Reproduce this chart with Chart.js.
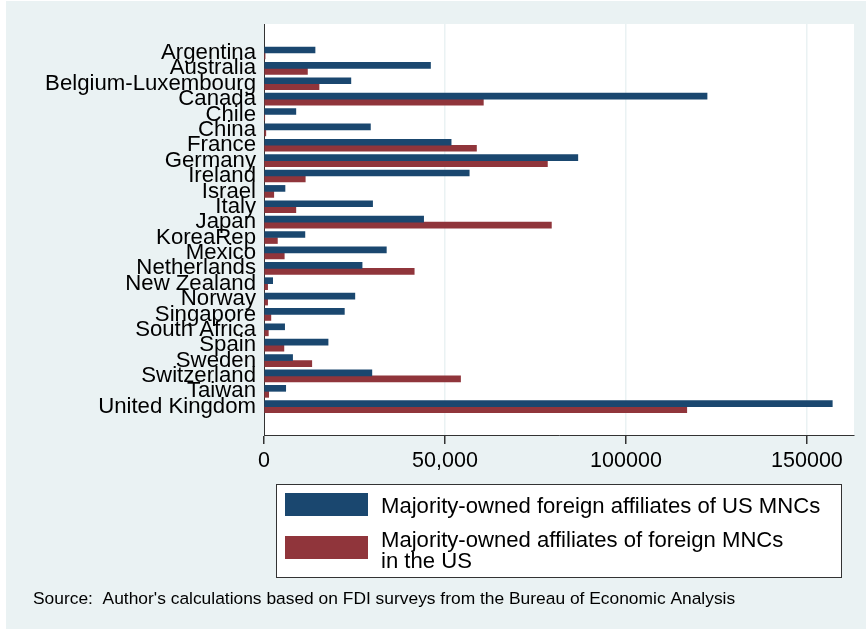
<!DOCTYPE html>
<html>
<head>
<meta charset="utf-8">
<script src="https://cdn.jsdelivr.net/npm/chart.js@4/dist/chart.umd.min.js"></script>
<style>
  html, body { margin: 0; padding: 0; background: #ffffff; }
  #wrap { width: 866px; height: 629px; }
</style>
</head>
<body>
<div id="wrap"><canvas id="fdiChart" width="866" height="629"></canvas></div>
<script>
// Countries on the category axis (top to bottom)
const countries = ['Argentina', 'Australia', 'Belgium-Luxembourg', 'Canada', 'Chile', 'China',
  'France', 'Germany', 'Ireland', 'Israel', 'Italy', 'Japan', 'KoreaRep', 'Mexico',
  'Netherlands', 'New Zealand', 'Norway', 'Singapore', 'South Africa', 'Spain', 'Sweden',
  'Switzerland', 'Taiwan', 'United Kingdom'];

// Majority-owned foreign affiliates of US MNCs
const usAffiliatesAbroad = [14100, 46000, 24000, 122400, 8800, 29400, 51700, 86700, 56700, 5800,
  30000, 44100, 11300, 33800, 27100, 2400, 25100, 22200, 5700, 17700, 7900, 29800, 6000, 157000];

// Majority-owned affiliates of foreign MNCs in the US
const foreignAffiliatesInUS = [300, 12000, 15200, 60600, 200, 500, 58700, 78300, 11400, 2700,
  8800, 79400, 3700, 5600, 41500, 1000, 1000, 1900, 1200, 5500, 13200, 54300, 1300, 116800];

const xTickValues = [0, 50000, 100000, 150000];
const xTickLabels = ['0', '50,000', '100000', '150000'];

const seriesNames = [
  ['Majority-owned foreign affiliates of US MNCs'],
  ['Majority-owned affiliates of foreign MNCs', 'in the US']
];
const sourceNote = "Source:  Author's calculations based on FDI surveys from the Bureau of Economic Analysis";

const NAVY = '#1a476f';
const MAROON = '#90353b';
const BG = '#eaf2f3';
const FONT = '"Liberation Sans", Arial, Helvetica, sans-serif';

// bars sit on a linear index axis so the plot keeps Stata-style outer gaps
const toPoints = vals => vals.map((v, i) => ({ x: v, y: i }));

// grey graph region + white plot region
const backgroundPlugin = {
  id: 'stataBackground',
  beforeDraw(chart) {
    const { ctx, chartArea: a } = chart;
    ctx.save();
    ctx.fillStyle = '#ffffff';
    ctx.fillRect(0, 0, chart.width, chart.height);
    ctx.fillStyle = BG;
    ctx.fillRect(6, 1, chart.width - 6, chart.height - 1);
    ctx.fillStyle = '#ffffff';
    ctx.fillRect(a.left, a.top, a.right - a.left, a.bottom - a.top);
    ctx.restore();
  }
};

// boxed legend below the plot and the source line
const legendPlugin = {
  id: 'boxLegend',
  afterDraw(chart) {
    const ctx = chart.ctx;
    ctx.save();
    ctx.fillStyle = '#ffffff';
    ctx.fillRect(276, 484, 566, 94);
    ctx.strokeStyle = '#333333';
    ctx.lineWidth = 1;
    ctx.strokeRect(276.5, 484.5, 565, 93);

    const rows = [{ top: 493, textY: 513 }, { top: 536, textY: 547 }];
    chart.data.datasets.forEach((ds, i) => {
      ctx.fillStyle = ds.backgroundColor;
      ctx.fillRect(285, rows[i].top, 83, 23);
      ctx.fillStyle = '#000000';
      ctx.font = '22.1px ' + FONT;
      ctx.textBaseline = 'alphabetic';
      seriesNames[i].forEach((line, j) => {
        ctx.fillText(line, 381, rows[i].textY + j * 20.6);
      });
    });

    ctx.font = '17.4px ' + FONT;
    ctx.fillStyle = '#000000';
    ctx.fillText(sourceNote, 33, 604);
    ctx.restore();
  }
};

const ctx = document.getElementById('fdiChart').getContext('2d');
const fdiChart = new Chart(ctx, {
  type: 'bar',
  data: {
    datasets: [{
      label: seriesNames[0].join(' '),
      data: toPoints(usAffiliatesAbroad),
      backgroundColor: NAVY
    }, {
      label: seriesNames[1].join(' '),
      data: toPoints(foreignAffiliatesInUS),
      backgroundColor: MAROON
    }]
  },
  options: {
    indexAxis: 'y',
    responsive: false,
    animation: false,
    barThickness: 6,
    layout: { padding: { top: 24, right: 12, bottom: 0, left: 0 } },
    scales: {
      x: {
        type: 'linear',
        min: 0,
        max: 163000,
        afterBuildTicks: axis => { axis.ticks = xTickValues.map(v => ({ value: v })); },
        afterFit: axis => { axis.height = 194; },
        grid: { color: BG, lineWidth: 1.5, tickColor: '#333333', tickLength: 9 },
        border: { display: true, color: '#333333', width: 1 },
        ticks: {
          color: '#000000',
          padding: 4,
          maxRotation: 0,
          font: { family: FONT, size: 21.5 },
          callback: (v, i) => xTickLabels[i]
        }
      },
      y: {
        type: 'linear',
        reverse: true,
        offset: false,
        min: -1.886,
        max: 24.84,
        afterBuildTicks: axis => { axis.ticks = countries.map((c, i) => ({ value: i })); },
        afterFit: axis => { axis.width = 264; },
        grid: { display: false, drawTicks: false, offset: false },
        border: { display: true, color: '#333333', width: 1 },
        ticks: {
          color: '#000000',
          padding: 8,
          autoSkip: false,
          font: { family: FONT, size: 22.2, lineHeight: 1 },
          callback: v => countries[v]
        }
      }
    },
    plugins: {
      legend: { display: false },
      tooltip: { enabled: false }
    }
  },
  plugins: [backgroundPlugin, legendPlugin]
});
</script>
</body>
</html>
